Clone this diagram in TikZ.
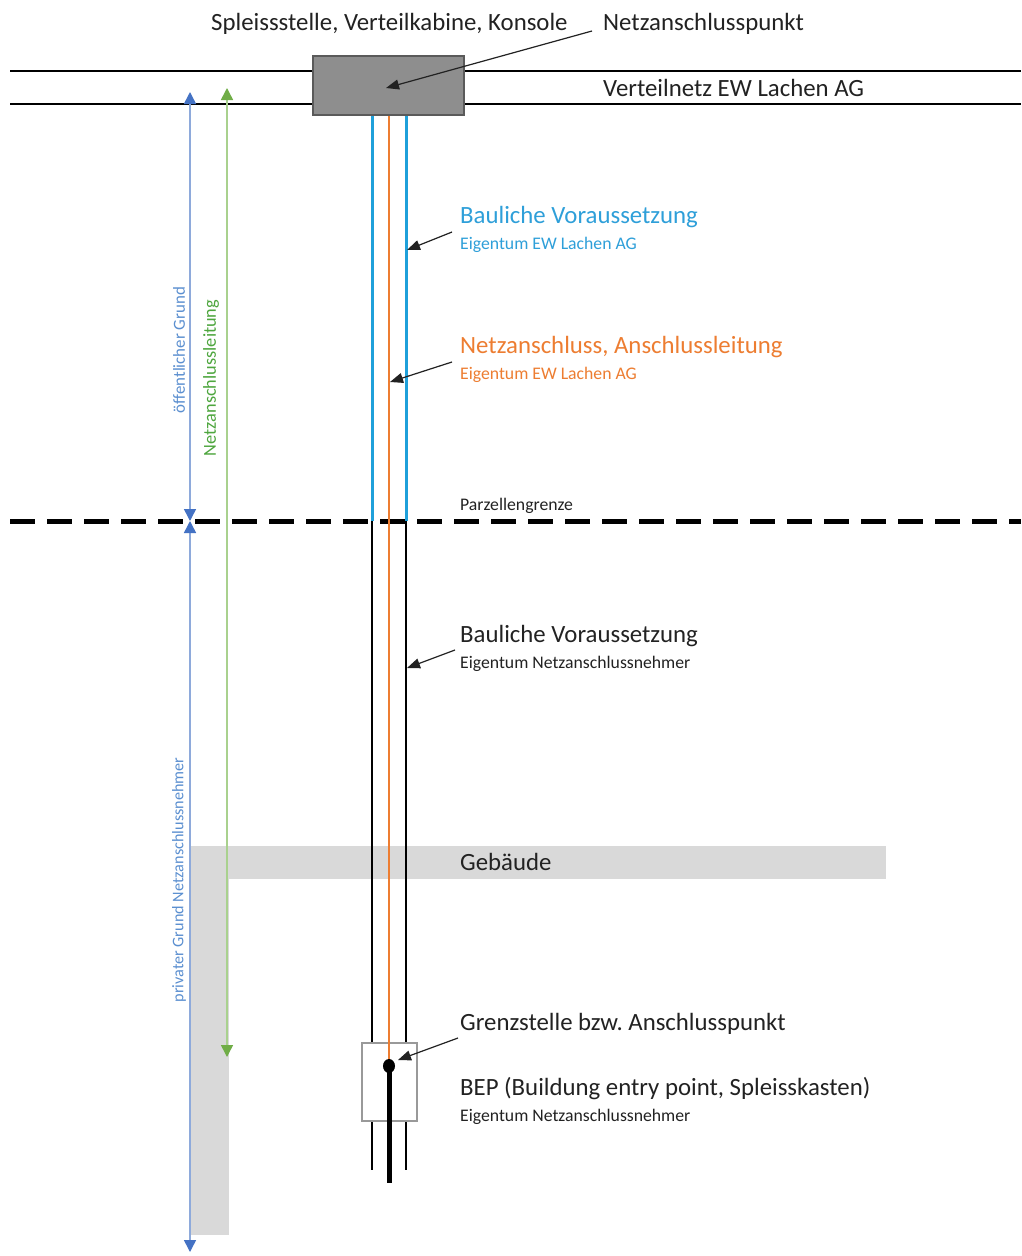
\documentclass[tikz,border=0pt]{standalone}
\usepackage{fontspec}
\setmainfont{Carlito}
\frenchspacing
\usetikzlibrary{arrows.meta}
\definecolor{cableblue}{HTML}{1FA0DA}
\definecolor{textblue}{HTML}{2E9FD9}
\definecolor{cableorange}{HTML}{ED7D31}
\definecolor{boxgray}{HTML}{8E8E8E}
\definecolor{boxedge}{HTML}{5A5A5A}
\definecolor{bandgray}{HTML}{D9D9D9}
\definecolor{dimblue}{HTML}{8EAADB}
\definecolor{dimbluehead}{HTML}{4472C4}
\definecolor{dimbluetext}{HTML}{5B8FD0}
\definecolor{dimgreen}{HTML}{A9D18E}
\definecolor{dimgreenhead}{HTML}{70AD47}
\definecolor{dimgreentext}{HTML}{4EA63E}
\definecolor{textdark}{HTML}{222222}
\tikzset{
  bigtxt/.style={font=\fontsize{24.8}{29}\selectfont, anchor=west, inner sep=0, text=textdark},
  smalltxt/.style={font=\fontsize{17.7}{21}\selectfont, anchor=west, inner sep=0, text=textdark},
  sidetxt/.style={rotate=90, inner sep=0},
  annot/.style={line width=1.2, draw=textdark, -{Triangle[length=13,width=10]}},
  bluecable/.style={line width=3, draw=cableblue},
  orangecable/.style={line width=2.5, draw=cableorange},
  blackcable/.style={line width=2.5, draw=black},
  dimbluearrow/.style={line width=1.5, draw=dimblue, {Triangle[length=12,width=12,color=dimbluehead]}-{Triangle[length=12,width=12,color=dimbluehead]}},
  dimgreenarrow/.style={line width=1.5, draw=dimgreen, {Triangle[length=12,width=12,color=dimgreenhead]}-{Triangle[length=12,width=12,color=dimgreenhead]}},
}
\begin{document}
\begin{tikzpicture}[x=1pt,y=-1pt]
\useasboundingbox[fill=white] (0,0) rectangle (1021,1256);

% grey building bands
\fill[bandgray] (190,846) rectangle (886,879);
\fill[bandgray] (190,879) rectangle (229,1235);
\node[bigtxt] (geb) at (460,862) {Gebäude};

% distribution network lines
\draw[line width=1.5] (10,71) -- (1021,71);
\draw[line width=2.5] (10,104) -- (1021,104);

% parcel boundary
\draw[line width=5, dash pattern=on 25 off 12] (10,521) -- (1021,521);
\node[smalltxt] (parz) at (460,506) {Parzellengrenze};

% cables
\coordinate (bl1) at (372,115);
\coordinate (bl2) at (372,521);
\coordinate (bl3) at (372,1170);
\coordinate (br1) at (406,115);
\coordinate (br2) at (406,521);
\coordinate (br3) at (406,1170);
\coordinate (or1) at (389,115);
\coordinate (dot) at (389,1066);
\coordinate (blk) at (389,1183);
\draw[bluecable] (bl1) -- (bl2);
\draw[bluecable] (br1) -- (br2);
\draw[blackcable] (bl2) -- (bl3);
\draw[blackcable] (br2) -- (br3);

% BEP box
\node[draw=gray!80, line width=2, fill=white, minimum width=55, minimum height=78, inner sep=0] (bep) at (389.5,1082) {};
\draw[orangecable] (or1) -- (dot);
\draw[line width=5, draw=black] (dot) -- (blk);
\fill[black] (dot) ellipse (6 and 7);

% splice box
\node[draw=boxedge, line width=2, fill=boxgray, minimum width=151, minimum height=59, inner sep=0] (nap) at (388.5,85.5) {};

% top labels
\node[bigtxt] (splice) at (211,24) {Spleissstelle, Verteilkabine, Konsole};
\node[bigtxt] (naptxt) at (603,24) {Netzanschlusspunkt};
\node[bigtxt] (vnet) at (603,88) {Verteilnetz EW Lachen AG};
\coordinate (s0) at (592,31);
\coordinate (t0) at (386,88);
\draw[annot] (s0) -- (t0);

% cable labels
\node[bigtxt, text=textblue] (bv1) at (460,217) {Bauliche Voraussetzung};
\node[smalltxt, text=textblue] (ev1) at (460,245) {Eigentum EW Lachen AG};
\coordinate (s1) at (452,232);
\coordinate (t1) at (407,250);
\draw[annot] (s1) -- (t1);

\node[bigtxt, text=cableorange] (na) at (460,347) {Netzanschluss, Anschlussleitung};
\node[smalltxt, text=cableorange] (ev2) at (460,375) {Eigentum EW Lachen AG};
\coordinate (s2) at (452,362);
\coordinate (t2) at (390,382);
\draw[annot] (s2) -- (t2);

\node[bigtxt] (bv2) at (460,636) {Bauliche Voraussetzung};
\node[smalltxt] (ev3) at (460,664) {Eigentum Netzanschlussnehmer};
\coordinate (s3) at (455,650);
\coordinate (t3) at (407,668);
\draw[annot] (s3) -- (t3);

\node[bigtxt] (gs) at (460,1024) {Grenzstelle bzw.\ Anschlusspunkt};
\coordinate (s4) at (458,1038);
\coordinate (t4) at (398,1060);
\draw[annot] (s4) -- (t4);
\node[bigtxt] (beptxt) at (460,1089) {BEP (Buildung entry point, Spleisskasten)};
\node[smalltxt] (ev4) at (460,1117) {Eigentum Netzanschlussnehmer};

% dimension arrows
\coordinate (d1) at (190,92);
\coordinate (d2) at (190,521);
\coordinate (d3) at (190,1252);
\draw[dimbluearrow] (d1) -- (d2);
\draw[dimbluearrow] (d2) -- (d3);
\coordinate (g1) at (227,88);
\coordinate (g2) at (227,1057);
\draw[dimgreenarrow] (g1) -- (g2);
\node[sidetxt, text=dimbluetext, font=\fontsize{16.9}{20}\selectfont] (og) at (179,350) {öffentlicher Grund};
\node[sidetxt, text=dimgreentext, font=\fontsize{18.3}{21}\selectfont] (nl) at (211,378) {Netzanschlussleitung};
\node[sidetxt, text=dimbluetext, font=\fontsize{16.2}{19}\selectfont] (pg) at (179,880) {privater Grund Netzanschlussnehmer};
\end{tikzpicture}
\end{document}
